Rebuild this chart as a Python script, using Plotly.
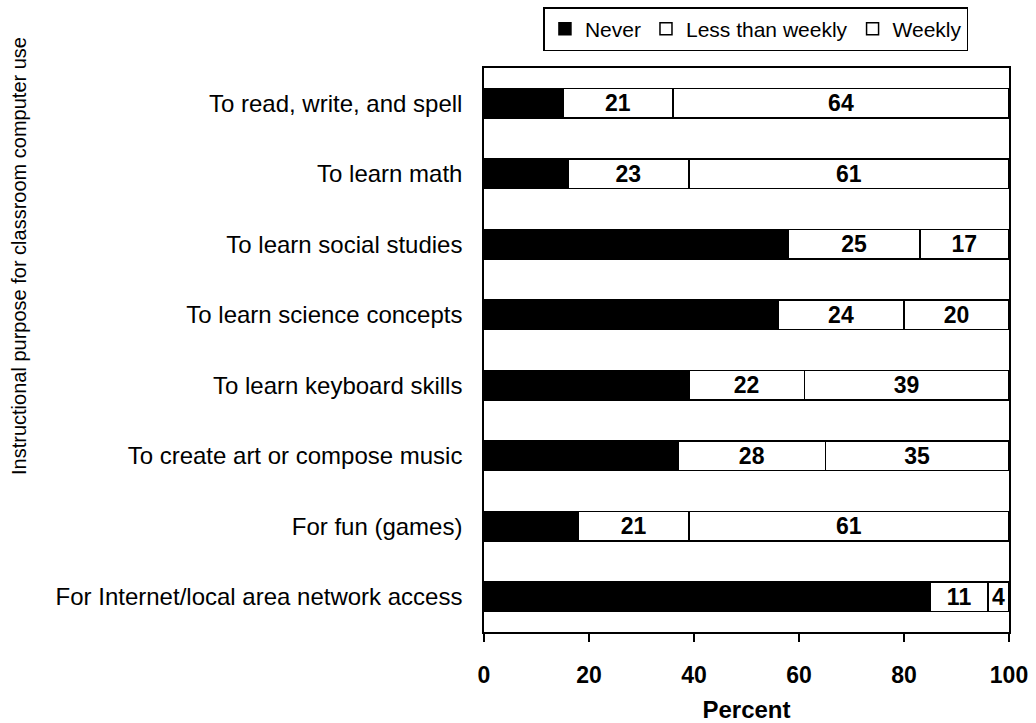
import plotly.graph_objects as go

categories = [
    "To read, write, and spell",
    "To learn math",
    "To learn social studies",
    "To learn science concepts",
    "To learn keyboard skills",
    "To create art or compose music",
    "For fun (games)",
    "For Internet/local area network access",
]
never = [15, 16, 58, 56, 39, 37, 18, 85]
less_than_weekly = [21, 23, 25, 24, 22, 28, 21, 11]
weekly = [64, 61, 17, 20, 39, 35, 61, 4]
x_ticks = [0, 20, 40, 60, 80, 100]

FONT = "Liberation Sans, Arial, sans-serif"
PLOT_W = 1036 - 484 - 27
PLOT_H = 723 - 68 - 91

fig = go.Figure()

fig.add_trace(go.Bar(
    y=categories, x=never, name="Never", orientation="h",
    marker=dict(color="black", line=dict(color="black", width=1.5)),
    width=0.42,
))
fig.add_trace(go.Bar(
    y=categories, x=less_than_weekly, name="Less than weekly", orientation="h",
    marker=dict(color="white", line=dict(color="black", width=1.5)),
    width=0.42,
    text=[str(v) for v in less_than_weekly], textposition="inside",
    insidetextanchor="middle", constraintext="none", textangle=0,
    textfont=dict(family=FONT, size=23, color="black", weight="bold"),
))
fig.add_trace(go.Bar(
    y=categories, x=weekly, name="Weekly", orientation="h",
    marker=dict(color="white", line=dict(color="black", width=1.5)),
    width=0.42,
    text=[str(v) for v in weekly], textposition="inside",
    insidetextanchor="middle", constraintext="none", textangle=0,
    textfont=dict(family=FONT, size=23, color="black", weight="bold"),
))

fig.update_layout(
    barmode="stack",
    width=1036, height=723,
    margin=dict(l=484, r=27, t=68, b=91, autoexpand=False),
    paper_bgcolor="white", plot_bgcolor="white",
    font=dict(family=FONT, color="black", size=22),
    showlegend=True,
    uniformtext=dict(mode=False),
    legend=dict(
        orientation="h", x=0.518, xanchor="center",
        y=1 + 17 / PLOT_H, yanchor="bottom",
        bordercolor="black", borderwidth=1.5,
        font=dict(family=FONT, size=21, color="black"),
        traceorder="normal", itemwidth=30,
    ),
    bargap=0.58,
)

fig.update_xaxes(
    range=[0, 100], tickvals=x_ticks, ticktext=[str(v) for v in x_ticks],
    showgrid=False, zeroline=False, automargin=False,
    showline=True, linecolor="black", linewidth=1.5, mirror=True,
    ticks="outside", ticklen=8, tickwidth=1.5, tickcolor="black",
    tickfont=dict(family=FONT, size=23, color="black", weight="bold"),
    ticklabelstandoff=14,
    title=dict(text="Percent", font=dict(family=FONT, size=24, color="black", weight="bold"),
               standoff=22),
)
fig.update_yaxes(
    categoryorder="array", categoryarray=categories, autorange="reversed",
    showgrid=False, zeroline=False, automargin=False,
    showline=True, linecolor="black", linewidth=1.5, mirror=True,
    ticks="", ticklabelstandoff=15,
    tickfont=dict(family=FONT, size=24, color="black"),
)

fig.add_annotation(
    text="Instructional purpose for classroom computer use",
    xref="paper", yref="paper", x=-484 / PLOT_W, y=1 - (256 - 68) / PLOT_H,
    xanchor="left", yanchor="middle", textangle=-90, showarrow=False,
    font=dict(family=FONT, size=20, color="black"), xshift=6,
)

fig.write_html("out.html")
